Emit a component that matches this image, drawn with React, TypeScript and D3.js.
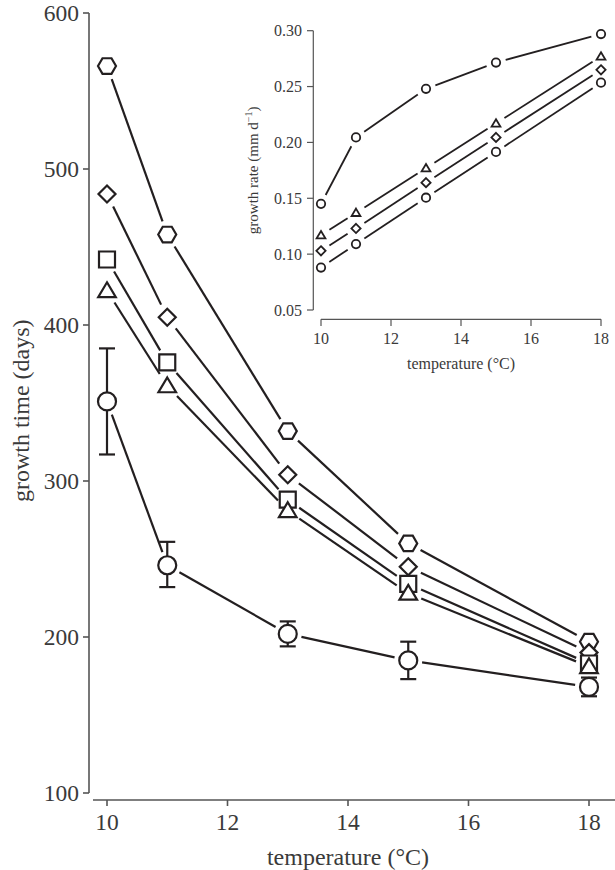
import React from 'react';
import * as d3 from 'd3';

// temperatures (°C)
const temps = [10, 11, 13, 15, 18];

// main panel: growth time (days)
const timeHexagon = [566, 458, 332, 260, 197];
const timeDiamond = [484, 405, 304, 245, 190];
const timeSquare = [442, 376, 288, 234, 183];
const timeTriangle = [422, 361, 281, 228, 181];
const timeCircle = [351, 246, 202, 185, 168];
const circleLow = [317, 232, 194, 173, 162];
const circleHigh = [385, 261, 210, 197, 174];

const mainYTicks = [100, 200, 300, 400, 500, 600];
const xTicks = [10, 12, 14, 16, 18];

// inset: growth rate (mm d-1)
const rateCircle = [0.145, 0.2045, 0.248, 0.2715, 0.297];
const rateTriangle = [0.117, 0.137, 0.177, 0.217, 0.277];
const rateDiamond = [0.103, 0.123, 0.164, 0.2045, 0.265];
const rateHexagon = [0.088, 0.109, 0.1505, 0.1915, 0.2535];
const insetYTicks = [0.05, 0.1, 0.15, 0.2, 0.25, 0.3];

const INK = '#231f20';
const AXIS = '#555';
const TEXT = '#3a3a3a';
const FONT = '"Liberation Serif", "DejaVu Serif", serif';

type Shape = 'hexagon' | 'diamond' | 'square' | 'triangle' | 'circle';

// marker outline centred on 0,0
function shapePath(shape: Shape, r: number): string {
  if (shape === 'circle') {
    const p = d3.path();
    p.arc(0, 0, r, 0, Math.PI * 2);
    return p.toString();
  }
  let pts: [number, number][] = [];
  if (shape === 'hexagon') {
    pts = d3.range(6).map(i => [r * Math.cos((i * Math.PI) / 3), r * Math.sin((i * Math.PI) / 3)]);
  } else if (shape === 'diamond') {
    pts = [[0, -r], [r, 0], [0, r], [-r, 0]];
  } else if (shape === 'square') {
    pts = [[-r, -r], [r, -r], [r, r], [-r, r]];
  } else {
    pts = [[0, -r * 1.05], [r * 1.1, r * 0.8], [-r * 1.1, r * 0.8]];
  }
  return 'M' + pts.map(p => p.join(',')).join('L') + 'Z';
}

// line segments between markers, trimmed so they stop short of each marker
function gappedSegments(xs: number[], ys: number[], gap: number) {
  const segs: { x1: number; y1: number; x2: number; y2: number }[] = [];
  for (let i = 0; i < xs.length - 1; i++) {
    const dx = xs[i + 1] - xs[i];
    const dy = ys[i + 1] - ys[i];
    const len = Math.hypot(dx, dy);
    const ux = dx / len;
    const uy = dy / len;
    segs.push({
      x1: xs[i] + ux * gap,
      y1: ys[i] + uy * gap,
      x2: xs[i + 1] - ux * gap,
      y2: ys[i + 1] - uy * gap,
    });
  }
  return segs;
}

interface Series {
  values: number[];
  shape: Shape;
  size: number;
}

export default function App() {
  // main panel scales
  const x = d3.scaleLinear().domain([10, 18]).range([107, 589]);
  const y = d3.scaleLinear().domain([100, 600]).range([793, 13]);

  // inset scales
  const xi = d3.scaleLinear().domain([10, 18]).range([321, 601]);
  const yi = d3.scaleLinear().domain([0.05, 0.3]).range([310, 30.7]);

  const mainSeries: Series[] = [
    { values: timeHexagon, shape: 'hexagon', size: 9 },
    { values: timeDiamond, shape: 'diamond', size: 8.5 },
    { values: timeSquare, shape: 'square', size: 8 },
    { values: timeTriangle, shape: 'triangle', size: 8 },
    { values: timeCircle, shape: 'circle', size: 9 },
  ];

  const insetSeries: Series[] = [
    { values: rateCircle, shape: 'circle', size: 4.2 },
    { values: rateTriangle, shape: 'triangle', size: 4 },
    { values: rateDiamond, shape: 'diamond', size: 4.6 },
    { values: rateHexagon, shape: 'circle', size: 4.2 },
  ];

  const xs = temps.map(t => x(t));
  const xsi = temps.map(t => xi(t));

  return (
    <svg
      width={615}
      height={870}
      style={{ position: 'absolute', left: 0, top: 0, background: '#fff' }}
      fontFamily={FONT}
    >
      {/* main y axis */}
      <line x1={89} x2={89} y1={y(600)} y2={y(100)} stroke={AXIS} strokeWidth={1.6} />
      {mainYTicks.map(t => (
        <g key={'my' + t}>
          <line x1={83} x2={89} y1={y(t)} y2={y(t)} stroke={AXIS} strokeWidth={1.6} />
          <text x={79} y={y(t)} dy="0.35em" textAnchor="end" fontSize={23.5} fill={TEXT}>
            {t}
          </text>
        </g>
      ))}
      <text
        transform={`translate(29,${y(345)}) rotate(-90)`}
        textAnchor="middle"
        fontSize={24}
        fill={TEXT}
      >
        growth time (days)
      </text>

      {/* main x axis */}
      <line x1={93} x2={615} y1={800} y2={800} stroke={AXIS} strokeWidth={1.6} />
      {xTicks.map(t => (
        <g key={'mx' + t}>
          <line x1={x(t)} x2={x(t)} y1={800} y2={806} stroke={AXIS} strokeWidth={1.6} />
          <text x={x(t)} y={830} textAnchor="middle" fontSize={23.5} fill={TEXT}>
            {t}
          </text>
        </g>
      ))}
      <text x={348} y={865} textAnchor="middle" fontSize={24} fill={TEXT}>
        temperature (°C)
      </text>

      {/* main lines */}
      {mainSeries.map((s, si) =>
        gappedSegments(xs, s.values.map(v => y(v)), 14).map((seg, i) => (
          <line key={'ml' + si + '-' + i} {...seg} stroke={INK} strokeWidth={2.2} />
        ))
      )}

      {/* error bars on circle series */}
      {temps.map((t, i) => (
        <g key={'eb' + i} stroke={INK} strokeWidth={2.2}>
          <line x1={x(t)} x2={x(t)} y1={y(circleLow[i])} y2={y(circleHigh[i])} />
          <line x1={x(t) - 8} x2={x(t) + 8} y1={y(circleLow[i])} y2={y(circleLow[i])} />
          <line x1={x(t) - 8} x2={x(t) + 8} y1={y(circleHigh[i])} y2={y(circleHigh[i])} />
        </g>
      ))}

      {/* main markers */}
      {mainSeries.map((s, si) =>
        s.values.map((v, i) => (
          <path
            key={'mm' + si + '-' + i}
            d={shapePath(s.shape, s.size)}
            transform={`translate(${xs[i]},${y(v)})`}
            fill="#fff"
            stroke={INK}
            strokeWidth={2.2}
          />
        ))
      )}

      {/* inset axes */}
      <line x1={313.3} x2={313.3} y1={yi(0.3)} y2={yi(0.05)} stroke={AXIS} strokeWidth={1.2} />
      {insetYTicks.map(t => (
        <g key={'iy' + t}>
          <line x1={307} x2={313.3} y1={yi(t)} y2={yi(t)} stroke={AXIS} strokeWidth={1.2} />
          <text x={302} y={yi(t)} dy="0.35em" textAnchor="end" fontSize={16} fill={TEXT}>
            {d3.format('.2f')(t)}
          </text>
        </g>
      ))}
      <text
        transform={`translate(258,${yi(0.175)}) rotate(-90)`}
        textAnchor="middle"
        fontSize={15}
        fill={TEXT}
      >
        growth rate (mm d
        <tspan fontSize={10} dy={-6}>−1</tspan>
        <tspan dy={6}>)</tspan>
      </text>
      <line x1={xi(10)} x2={xi(18)} y1={319.3} y2={319.3} stroke={AXIS} strokeWidth={1.2} />
      {xTicks.map(t => (
        <g key={'ix' + t}>
          <line x1={xi(t)} x2={xi(t)} y1={319.3} y2={326} stroke={AXIS} strokeWidth={1.2} />
          <text x={xi(t)} y={344} textAnchor="middle" fontSize={16} fill={TEXT}>
            {t}
          </text>
        </g>
      ))}
      <text x={xi(14)} y={369} textAnchor="middle" fontSize={16} fill={TEXT}>
        temperature (°C)
      </text>

      {/* inset lines and markers */}
      {insetSeries.map((s, si) =>
        gappedSegments(xsi, s.values.map(v => yi(v)), 10).map((seg, i) => (
          <line key={'il' + si + '-' + i} {...seg} stroke={INK} strokeWidth={1.8} />
        ))
      )}
      {insetSeries.map((s, si) =>
        s.values.map((v, i) => (
          <path
            key={'im' + si + '-' + i}
            d={shapePath(s.shape, s.size)}
            transform={`translate(${xsi[i]},${yi(v)})`}
            fill="#fff"
            stroke={INK}
            strokeWidth={1.8}
          />
        ))
      )}
    </svg>
  );
}
